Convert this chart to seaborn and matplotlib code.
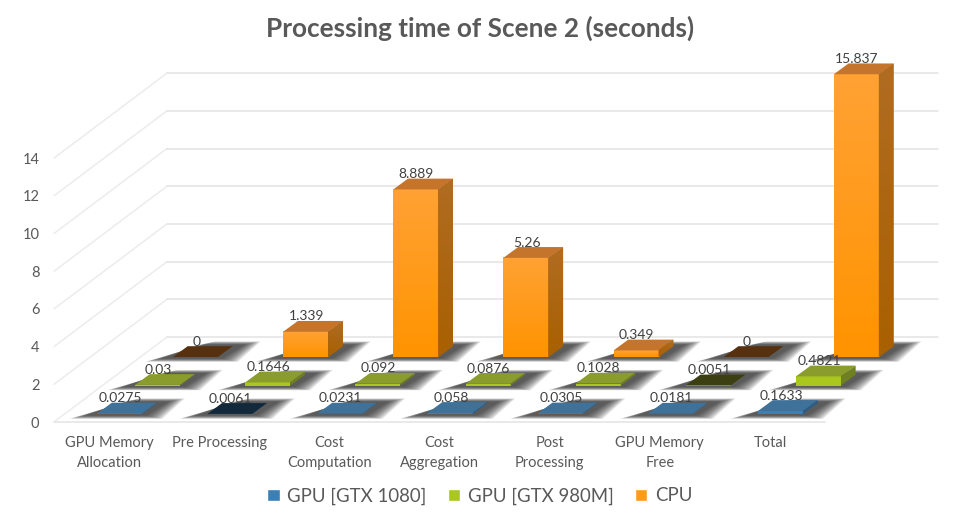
import numpy as np
import matplotlib
matplotlib.use("Agg")
import matplotlib.pyplot as plt
import seaborn as sns
from matplotlib.colors import to_rgb
from matplotlib.patches import Patch, Polygon
from matplotlib.transforms import Affine2D, IdentityTransform

categories = ["GPU Memory\nAllocation", "Pre Processing", "Cost\nComputation", "Cost\nAggregation",
              "Post\nProcessing", "GPU Memory\nFree", "Total"]
gpu_1080 = [0.0275, 0.0061, 0.0231, 0.058, 0.0305, 0.0181, 0.1633]
gpu_980m = [0.03, 0.1646, 0.092, 0.0876, 0.1028, 0.0051, 0.4821]
cpu = [0, 1.339, 8.889, 5.26, 0.349, 0, 15.837]
y_ticks = [0, 2, 4, 6, 8, 10, 12, 14]
y_max = 15

# back row first so the front rows paint over it
rows = [
    ("CPU", cpu, 65, "#ff9a1a", "#c5742c", "#57300f", "#ffa234", "#ff9300", "#b06c22", "#a86000"),
    ("GPU [GTX 980M]", gpu_980m, 36.5, "#a9c71f", "#8a9c2c", "#3b3f12", None, None, "#6f8020", "#6f8020"),
    ("GPU [GTX 1080]", gpu_1080, 8, "#3a80b8", "#3f729b", "#12293b", None, None, "#2d5c85", "#2d5c85"),
]

WALL_DX, WALL_DY = 113, 85   # floor depth, pixels
BAR_DX, BAR_DY = 14.7, 10.8  # depth of one bar, pixels
TEXT = "#595959"
GRID = "#e3e3e3"

sns.set_theme(style="white")
plt.rcParams["font.family"] = ["Lato", "DejaVu Sans"]

fig = plt.figure(figsize=(9.6, 5.21), dpi=100)
ax = fig.add_axes([54 / 960, (521 - 422) / 521, 771 / 960, 18.85 * y_max / 521])
ax.set_facecolor("none")
ax.set_xlim(-0.5, 6.5)
ax.set_ylim(0, y_max)
pix = IdentityTransform()


# vertical colour fade inside a patch
def fade(patch, top, bottom, z):
    verts = patch.get_verts()
    x0, y0 = verts.min(axis=0)
    x1, y1 = verts.max(axis=0)
    colors = np.linspace(to_rgb(top), to_rgb(bottom), 64)[:, None, :]
    im = ax.imshow(colors, extent=[x0, x1, y0, y1], origin="upper", transform=pix,
                   aspect="auto", zorder=z, interpolation="bilinear")
    im.set_clip_path(patch)
    im.set_clip_box(fig.bbox)


# walls: only the floor edge, left wall and back wall have lines
for tick in y_ticks:
    x0, y0 = ax.transData.transform((-0.5, tick))
    ax.plot([x0, x0 + WALL_DX], [y0, y0 + WALL_DY], color="#ececec", lw=1.1, transform=pix, clip_on=False, zorder=1)
    ax.plot([x0 + WALL_DX, x0 + WALL_DX + 771], [y0 + WALL_DY, y0 + WALL_DY], color=GRID, lw=1.1,
            transform=pix, clip_on=False, zorder=1)
x0, y0 = ax.transData.transform((-0.5, 0))
ax.plot([x0, x0 + 771], [y0, y0], color=GRID, lw=1.1, transform=pix, clip_on=False, zorder=1)

for r, (name, values, lift, front, top, dark, fade_top, fade_bottom, side_top, side_bottom) in enumerate(rows):
    base_z = 10 + r * 10
    shift = Affine2D().translate(lift * WALL_DX / WALL_DY, lift)
    shifted = ax.transData + shift
    drawn = np.minimum(values, y_max)
    sns.barplot(x=categories, y=drawn, color=front, saturation=1, width=45 / 110.14, errorbar=None,
                ax=ax, zorder=base_z + 2, linewidth=0)
    bars = ax.containers[-1]
    for bar, value in zip(bars, values):
        bar.set_transform(shifted)
        bar.set_clip_on(False)
        (xa, ya), (xb, yb) = bar.get_verts()[0], bar.get_verts()[2]
        xa, xb = min(xa, xb), max(xa, xb)
        ya, yb = min(ya, yb), max(ya, yb)

        # soft shadow on the floor around the footprint
        for grow in np.linspace(24, 8, 12):
            g_y = grow * 0.2
            ax.add_patch(Polygon([(xa - grow - 4, ya - g_y), (xb + grow - 4, ya - g_y),
                                  (xb + BAR_DX + grow + 4, ya + BAR_DY + g_y), (xa + BAR_DX + grow + 4, ya + BAR_DY + g_y)],
                                 closed=True, fc="#2a2a2a", ec="none", alpha=0.11, transform=pix,
                                 clip_on=False, zorder=base_z))

        top_color = dark if value < 0.01 else top
        ax.add_patch(Polygon([(xa, yb), (xb, yb), (xb + BAR_DX, yb + BAR_DY), (xa + BAR_DX, yb + BAR_DY)],
                             closed=True, fc=top_color, ec="none", transform=pix, clip_on=False, zorder=base_z + 3))
        side = Polygon([(xb, ya), (xb + BAR_DX, ya + BAR_DY), (xb + BAR_DX, yb + BAR_DY), (xb, yb)],
                       closed=True, fc=side_bottom, ec="none", transform=pix, clip_on=False, zorder=base_z + 3)
        ax.add_patch(side)
        if fade_top is not None and yb - ya > 1:
            fade(bar, fade_top, fade_bottom, base_z + 2.5)
            fade(side, side_top, side_bottom, base_z + 3.5)

        ax.annotate(f"{value}", xy=(bar.get_x() + bar.get_width() / 2, min(value, y_max)), xycoords=shifted,
                    xytext=(0.5, 11), textcoords="offset points", ha="center", va="center",
                    fontsize=10, color="#404040", zorder=100, annotation_clip=False)

ax.set_xlim(-0.5, 6.5)
ax.set_ylim(0, y_max)
ax.set_yticks(y_ticks)
ax.tick_params(axis="both", length=0, labelsize=10.5, labelcolor=TEXT)
ax.tick_params(axis="y", pad=10.5)
ax.tick_params(axis="x", pad=10)
for label in ax.get_xticklabels():
    label.set_linespacing(1.6)
ax.set_xlabel("")
ax.set_ylabel("")
sns.despine(ax=ax, left=True, bottom=True)

fig.text(0.5, 1 - 28 / 521, "Processing time of Scene 2 (seconds)", ha="center", va="center",
         fontsize=18.8, fontweight="bold", color=TEXT)

handles = [Patch(fc=rows[2][3], label=rows[2][0]), Patch(fc=rows[1][3], label=rows[1][0]),
           Patch(fc=rows[0][3], label=rows[0][0])]
fig.legend(handles=handles, loc="center", bbox_to_anchor=(0.5, 1 - 496 / 521), ncol=3, frameon=False,
           fontsize=13.4, labelcolor=TEXT, handlelength=0.65, handleheight=0.65, handletextpad=0.42, columnspacing=1.15)

fig.savefig("out.png", dpi=100, facecolor="white")
